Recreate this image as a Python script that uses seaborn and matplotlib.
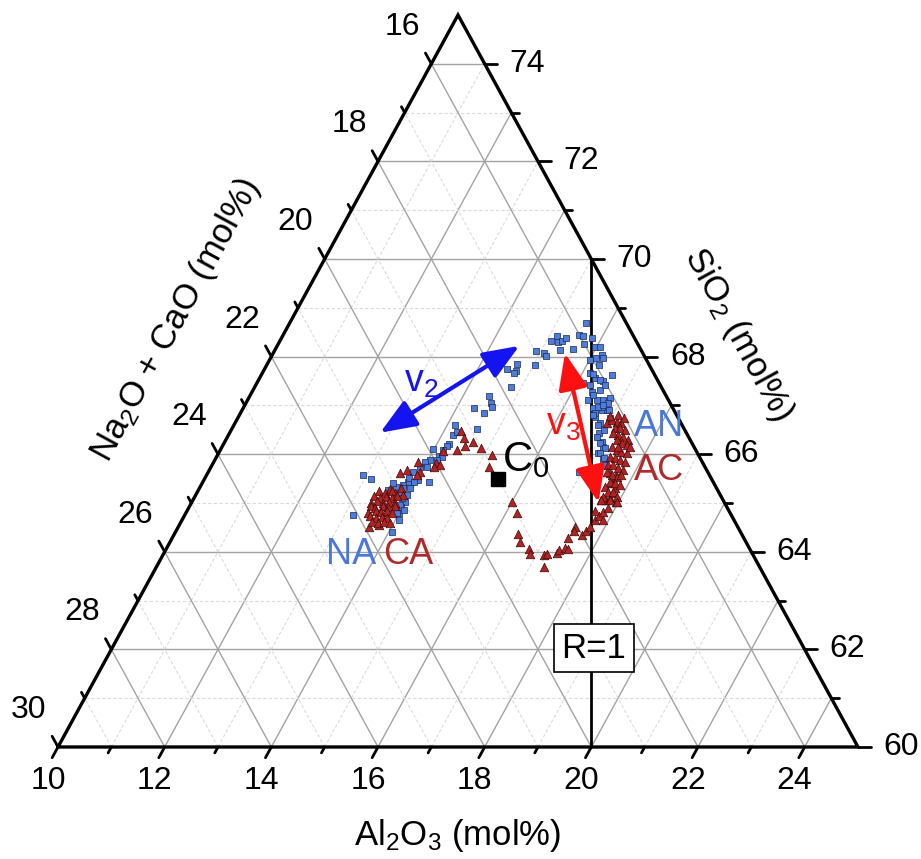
import numpy as np
import pandas as pd
import matplotlib
matplotlib.use("Agg")
import matplotlib.pyplot as plt
import seaborn as sns

# glass compositions (mol%)
an_al2o3 = [15.14, 15.08, 15.23, 14.90, 15.08, 15.14, 14.69, 15.02, 14.55, 14.74, 14.72, 14.80,
            14.49, 14.59, 14.66, 14.32, 14.56, 14.59, 14.15, 14.21, 14.26, 14.24, 14.20, 13.98,
            15.30, 15.33, 15.35, 15.57, 15.56, 15.55, 15.64, 15.82, 15.97, 16.06, 16.18, 16.01,
            16.22, 16.15, 16.29, 16.48, 16.57, 16.12, 16.37, 16.50, 16.39, 16.55, 16.72, 16.78,
            16.57, 16.74, 16.84, 16.68, 16.85, 16.92, 17.07, 17.15, 17.12, 17.28, 17.37, 16.94,
            15.74, 16.10, 16.23, 16.22, 16.40, 16.55, 16.27, 16.43, 16.67, 16.80, 16.71, 16.65,
            16.98, 16.64, 16.72, 16.87, 16.64, 16.98, 16.83, 16.92, 17.05, 17.20, 17.15, 17.27,
            14.16, 14.23, 14.03, 13.96, 14.04, 13.92, 13.84, 14.02, 14.24, 12.94, 13.12, 13.85,
            13.79, 13.68, 13.81, 13.99, 13.98, 13.99, 13.16, 14.05, 14.17, 14.16, 13.83, 13.96,
            13.58, 13.82, 13.93, 14.05, 13.96, 14.06, 13.90, 13.96, 13.55, 13.95]
an_sio2 = [68.43, 68.32, 68.29, 68.12, 68.07, 68.02, 67.85, 67.83, 67.74, 67.70, 67.66, 67.37,
           67.20, 67.04, 66.96, 66.95, 66.84, 66.52, 66.60, 66.40, 66.46, 66.20, 66.17, 66.11,
           68.31, 68.38, 68.14, 68.16, 68.68, 68.44, 68.42, 68.38, 68.20, 68.20, 68.03, 67.93,
           67.83, 67.66, 67.56, 67.49, 67.62, 67.45, 67.28, 67.32, 67.11, 67.11, 67.08, 67.15,
           66.94, 66.91, 66.91, 66.77, 66.63, 66.43, 66.26, 66.15, 66.02, 65.88, 65.78, 65.64,
           68.25, 67.98, 67.97, 67.64, 67.52, 67.42, 67.42, 67.21, 67.11, 67.04, 66.97, 66.84,
           66.50, 66.97, 67.01, 66.91, 66.80, 66.74, 66.60, 66.36, 66.22, 66.12, 66.02, 65.92,
           65.96, 65.94, 65.88, 65.85, 65.74, 65.74, 65.64, 65.47, 65.44, 65.57, 65.49, 65.44,
           65.37, 65.33, 65.20, 65.03, 64.92, 64.79, 64.75, 64.41, 66.09, 65.88, 65.51, 65.44,
           65.42, 65.30, 64.96, 64.86, 64.79, 64.65, 65.10, 65.16, 65.27, 65.31]

ca_al2o3 = [14.18, 14.19, 14.27, 14.18, 13.84, 13.97, 13.95, 13.70, 13.61, 14.32, 14.44, 14.67,
            14.55, 14.44, 14.88, 15.15, 15.22, 16.00, 16.20, 16.45, 16.56, 16.81, 16.88, 17.15,
            17.19, 17.26, 17.37, 17.38, 17.47, 17.54, 17.43, 17.44, 17.46, 17.65, 17.68, 17.72,
            17.74, 17.65, 17.77, 17.89, 17.80, 17.87, 17.65, 17.74, 17.80, 17.95, 17.81, 17.68,
            17.79, 17.55, 17.68, 13.59, 13.75, 13.58, 13.72, 13.79, 13.89,
            13.39, 13.52, 13.65, 13.36, 13.48, 13.59, 13.70, 13.79, 13.36, 13.47, 13.58, 13.70,
            13.81, 13.39, 13.50, 13.62, 13.73, 13.84, 13.42, 13.54, 13.65, 13.76, 13.87, 13.49,
            13.61, 13.72, 13.83, 13.58, 13.70, 13.81, 13.92,
            16.97, 17.03, 17.14, 17.25, 17.18, 17.27, 17.38, 17.20, 17.31, 17.42, 17.55, 17.33,
            17.46, 17.57, 17.31, 17.43, 17.54, 17.65, 17.38, 17.49, 17.60, 17.71, 17.43, 17.52,
            17.65, 17.76, 17.47, 17.60, 17.71, 17.78, 17.63, 17.74, 17.85, 17.59, 17.70, 17.80,
            17.91, 17.66, 17.66, 17.82, 17.96, 17.43, 16.96, 17.10, 17.24, 17.65]
ca_sio2 = [66.07, 65.81, 65.78, 65.74, 65.83, 65.64, 65.57, 65.68, 65.61, 66.48, 66.33, 66.24,
           66.17, 66.09, 66.12, 65.98, 65.74, 65.03, 64.80, 64.36, 64.21, 64.05, 63.95, 63.93,
           63.95, 63.69, 63.97, 64.03, 64.07, 64.05, 64.28, 64.51, 64.43, 64.34, 64.43, 64.51,
           64.65, 64.84, 64.73, 64.65, 64.82, 64.89, 65.06, 65.06, 65.10, 65.03, 65.20, 65.40,
           65.30, 65.61, 65.57, 64.50, 64.55, 65.28, 65.20, 65.30, 65.16,
           65.25, 65.21, 65.24, 65.14, 65.10, 65.13, 65.11, 65.14, 65.00, 65.04, 65.01, 65.03,
           65.00, 64.94, 64.90, 64.93, 64.91, 64.94, 64.80, 64.84, 64.81, 64.83, 64.80, 64.73,
           64.70, 64.72, 64.69, 64.62, 64.59, 64.61, 64.60,
           66.63, 66.70, 66.67, 66.63, 66.53, 66.53, 66.50, 66.43, 66.39, 66.36, 66.29, 66.29,
           66.22, 66.19, 66.15, 66.09, 66.05, 66.02, 65.95, 65.92, 65.88, 65.85, 65.78, 65.78,
           65.71, 65.68, 65.64, 65.57, 65.54, 65.57, 65.44, 65.40, 65.37, 65.33, 65.23, 65.23,
           65.13, 65.13, 65.06, 65.06, 65.03, 66.15, 66.78, 66.80, 66.74, 66.15]

c0_al2o3, c0_sio2 = 15.5, 65.5
v2_ends = [(12.82, 66.44), (14.54, 68.22)]
v3_ends = [(15.47, 68.07), (17.63, 65.01)]

al_ticks = [10, 12, 14, 16, 18, 20, 22, 24]
si_ticks = [60, 62, 64, 66, 68, 70, 72, 74]
nc_ticks = [16, 18, 20, 22, 24, 26, 28, 30]


def tern(al, si):
    al = np.asarray(al, dtype=float)
    si = np.asarray(si, dtype=float)
    return (al - 10) + (si - 60) / 2, si - 60


sns.set_style("white")
plt.rcParams["font.family"] = ["Liberation Sans", "DejaVu Sans"]
plt.rcParams["text.color"] = "black"
plt.rcParams["mathtext.fontset"] = "custom"
plt.rcParams["mathtext.rm"] = "Liberation Sans"
plt.rcParams["mathtext.it"] = "Liberation Sans:italic"
plt.rcParams["mathtext.default"] = "regular"

W, H = 921, 859
fig = plt.figure(figsize=(W / 100, H / 100), dpi=100)
ax = fig.add_axes([58 / W, (H - 747) / H, 800 / W, 732 / H])

# grid
for v in range(11, 25):
    major = v % 2 == 0
    kw = dict(color="#a3a3a3", lw=1.0, ls="-") if major else dict(color="#dadada", lw=0.8, ls=(0, (3, 2)))
    x, y = tern([v, v], [60, 85 - v])
    ax.plot(x, y, zorder=1, **kw)
for v in range(61, 75):
    major = v % 2 == 0
    kw = dict(color="#a3a3a3", lw=1.0, ls="-") if major else dict(color="#dadada", lw=0.8, ls=(0, (3, 2)))
    x, y = tern([10, 85 - v], [v, v])
    ax.plot(x, y, zorder=1, **kw)
for v in range(16, 30):
    major = v % 2 == 0
    kw = dict(color="#a3a3a3", lw=1.0, ls="-") if major else dict(color="#dadada", lw=0.8, ls=(0, (3, 2)))
    x, y = tern([40 - v, 10], [60, 90 - v])
    ax.plot(x, y, zorder=1, **kw)

# frame
x, y = tern([10, 25, 10, 10], [60, 60, 75, 60])
ax.plot(x, y, color="black", lw=2.4, zorder=5, clip_on=False, solid_joinstyle="miter")

# ticks
for v in range(10, 25):
    L = 0.22 if v % 2 == 0 else 0.12
    x0, y0 = tern(v, 60)
    ax.plot([x0, x0 - 0.5 * L], [y0, y0 - L], color="black", lw=2, clip_on=False, zorder=5)
for v in range(60, 75):
    L = 0.24 if v % 2 == 0 else 0.14
    x0, y0 = tern(85 - v, v)
    ax.plot([x0, x0 + L], [y0, y0], color="black", lw=2, clip_on=False, zorder=5)
for v in range(16, 31):
    L = 0.22 if v % 2 == 0 else 0.12
    x0, y0 = tern(10, 90 - v)
    ax.plot([x0, x0 - 0.5 * L], [y0, y0 + L], color="black", lw=2, clip_on=False, zorder=5)

for v in al_ticks:
    ax.annotate(str(v), tern(v, 60), xytext=(-10, -34), textcoords="offset pixels",
                ha="center", va="center", fontsize=23, annotation_clip=False)
for v in si_ticks:
    ax.annotate(str(v), tern(85 - v, v), xytext=(43, 0), textcoords="offset pixels",
                ha="center", va="center", fontsize=23, annotation_clip=False)
for v in nc_ticks:
    ax.annotate(str(v), tern(10, 90 - v), xytext=(-29, 37), textcoords="offset pixels",
                ha="center", va="center", fontsize=23, annotation_clip=False)

# R = 1 line (Al2O3 = Na2O + CaO)
x, y = tern([20, 15], [60, 70])
ax.plot(x, y, color="black", lw=2, zorder=4)

# data
an_x, an_y = tern(an_al2o3, an_sio2)
ca_x, ca_y = tern(ca_al2o3, ca_sio2)
df = pd.concat([
    pd.DataFrame({"X": an_x, "Y": an_y, "glass": "AN"}),
    pd.DataFrame({"X": ca_x, "Y": ca_y, "glass": "CA"}),
])
sns.scatterplot(data=df[df.glass == "AN"], x="X", y="Y", marker="s", color="#4d7ddc",
                edgecolor="#1c2750", linewidth=0.5, s=24, ax=ax, zorder=6, legend=False)
sns.scatterplot(data=df[df.glass == "CA"], x="X", y="Y", marker="^", color="#b22424",
                edgecolor="#3a0a0a", linewidth=0.5, s=38, ax=ax, zorder=7, legend=False)
ax.set_xlim(0, 15)
ax.set_ylim(0, 15)
ax.axis("off")

cx, cy = tern(c0_al2o3, c0_sio2)
ax.plot([cx], [cy], marker="s", color="black", ms=10, zorder=8)

# arrows
p1, p2 = [tern(*p) for p in v2_ends]
ax.annotate("", xy=p2, xytext=p1,
            arrowprops=dict(arrowstyle="<|-|>,head_length=1.0,head_width=0.4", color="#1414f0",
                            lw=3, mutation_scale=22, shrinkA=0, shrinkB=0), zorder=9)
p1, p2 = [tern(*p) for p in v3_ends]
ax.annotate("", xy=p2, xytext=p1,
            arrowprops=dict(arrowstyle="<|-|>,head_length=1.0,head_width=0.4", color="#ff1010",
                            lw=3, mutation_scale=22, shrinkA=0, shrinkB=0), zorder=9)


def ftext(px, py, s, **kw):
    fig.text(px / W, 1 - py / H, s, ha="center", va="center", **kw)


blue_txt = "#4a78d8"
red_txt = "#b02a2a"
ftext(351, 554, "NA", fontsize=26, color=blue_txt)
ftext(408, 554, "CA", fontsize=26, color=red_txt)
ftext(659, 426, "AN", fontsize=26, color=blue_txt)
ftext(659, 470, "AC", fontsize=26, color=red_txt)
ftext(421, 382, r"v$_2$", fontsize=27, color="#1414f0")
ftext(563, 425, r"v$_3$", fontsize=27, color="#ff1010")
ftext(526, 460, r"C$_0$", fontsize=30, color="black")
ftext(594, 648, "R=1", fontsize=25, color="black",
      bbox=dict(boxstyle="square,pad=0.22", fc="white", ec="black", lw=1.2))

ftext(458, 835, r"Al$_2$O$_3$ (mol%)", fontsize=25)
fig.text(176 / W, 1 - 320 / H, r"Na$_2$O + CaO (mol%)", fontsize=25, rotation=61.35,
         rotation_mode="anchor", ha="center", va="center")
fig.text(738 / W, 1 - 335 / H, r"SiO$_2$ (mol%)", fontsize=25, rotation=-61.35,
         rotation_mode="anchor", ha="center", va="center")

fig.savefig("out.png", dpi=100, facecolor="white")
